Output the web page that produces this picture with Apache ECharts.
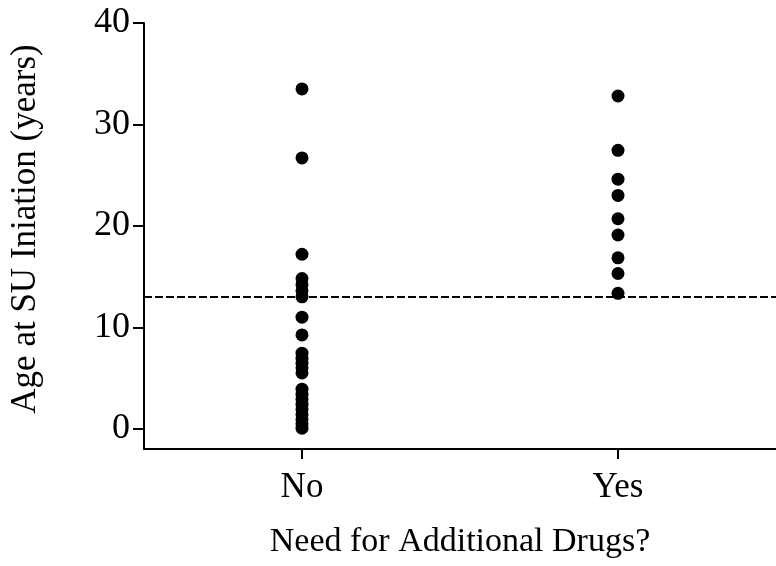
<!DOCTYPE html>
<html>
<head>
<meta charset="utf-8">
<script src="https://cdn.jsdelivr.net/npm/echarts@6/dist/echarts.min.js"></script>
<style>html,body{margin:0;padding:0;background:#fff;}#c{width:776px;height:566px;}</style>
</head>
<body>
<div id="c"></div>
<script>
var categories = ['No', 'Yes'];
var noValues = [33.5, 26.7, 17.2, 14.8, 14.2, 13.6, 13.0, 11.0, 9.25, 7.45, 6.95, 6.45, 6.0, 5.5, 3.9, 3.4, 2.9, 2.4, 1.9, 1.4, 0.9, 0.5, 0.05];
var yesValues = [32.8, 27.45, 24.6, 23.0, 20.7, 19.1, 16.85, 15.3, 13.35];
var thresholdValue = 13.05;
var yTickValues = [0, 10, 20, 30, 40];
var xTitle = 'Need for Additional Drugs?';
var yTitle = 'Age at SU Iniation (years)';

var font = '"Liberation Serif", "Times New Roman", serif';
var chart = echarts.init(document.getElementById('c'));
function toPoints(cat, vals) { return vals.map(function (v) { return [cat, v]; }); }

chart.setOption({
  animation: false,
  backgroundColor: '#fff',
  grid: { left: 142, top: 23, width: 640, bottom: 117, containLabel: false },
  xAxis: {
    type: 'category',
    data: categories,
    boundaryGap: true,
    name: xTitle,
    nameLocation: 'middle',
    nameGap: 76,
    nameTextStyle: { fontFamily: font, fontSize: 34, color: '#000' },
    axisLine: { show: true, onZero: false, lineStyle: { color: '#000', width: 2 } },
    axisTick: { show: true, alignWithLabel: true, length: 10, lineStyle: { color: '#000', width: 2 } },
    axisLabel: { fontFamily: font, fontSize: 35, color: '#000', margin: 21 },
    splitLine: { show: false }
  },
  yAxis: {
    type: 'value',
    min: -2,
    max: 40,
    name: yTitle,
    nameLocation: 'middle',
    nameGap: 101,
    nameTextStyle: { fontFamily: font, fontSize: 35, color: '#000', padding: [0, 0, 0, 14] },
    axisLine: { show: true, lineStyle: { color: '#000', width: 2 } },
    axisTick: { show: true, length: 11, customValues: yTickValues, lineStyle: { color: '#000', width: 2 } },
    axisLabel: { fontFamily: font, fontSize: 36, color: '#000', margin: 14, customValues: yTickValues },
    splitLine: { show: false }
  },
  series: [
    {
      type: 'scatter',
      symbol: 'circle',
      symbolSize: 13,
      itemStyle: { color: '#000', opacity: 1 },
      data: toPoints(categories[0], noValues),
      markLine: {
        silent: true,
        symbol: ['none', 'none'],
        label: { show: false },
        lineStyle: { color: '#000', width: 2, type: [8, 3], opacity: 1 },
        data: [{ yAxis: thresholdValue }]
      }
    },
    {
      type: 'scatter',
      symbol: 'circle',
      symbolSize: 13,
      itemStyle: { color: '#000', opacity: 1 },
      data: toPoints(categories[1], yesValues)
    }
  ]
});
</script>
</body>
</html>
